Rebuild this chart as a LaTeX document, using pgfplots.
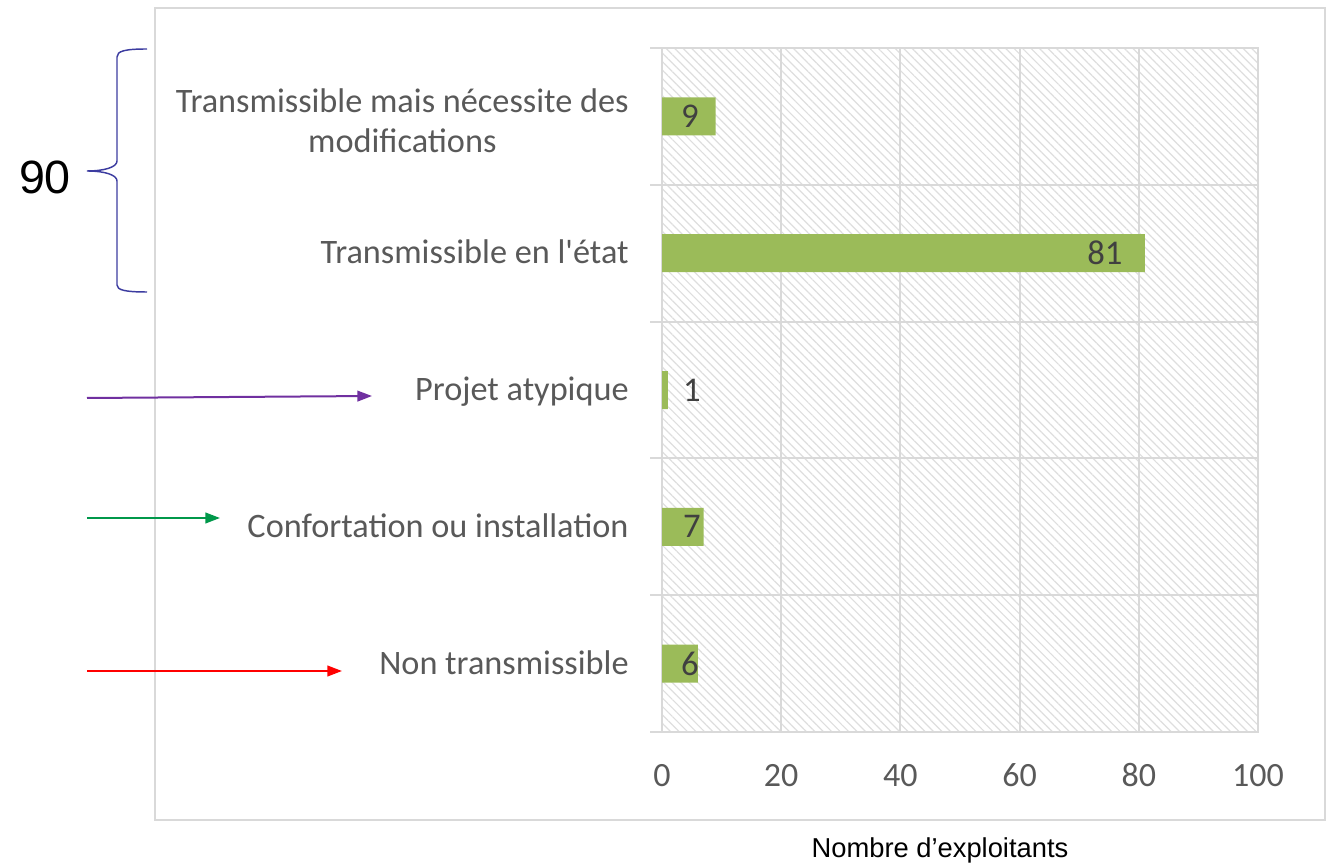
\documentclass[border=0pt]{standalone}
\usepackage{pgfplots}
\pgfplotsset{compat=1.18}
\usepackage{fontspec}
\setmainfont{Carlito}[Ligatures=TeXOff, Numbers=Lining]
\newfontfamily\arial{Liberation Sans}
\usetikzlibrary{patterns.meta,arrows.meta}
\definecolor{barg}{HTML}{9BBB59}
\definecolor{lbl}{HTML}{595959}
\definecolor{dlbl}{HTML}{404040}
\definecolor{gridc}{HTML}{D9D9D9}
\definecolor{brc}{HTML}{3C3CA0}
\definecolor{purp}{HTML}{7030A0}
\definecolor{grn}{HTML}{00984A}
\begin{document}
\begin{tikzpicture}
\begin{scope}[x=0.75pt,y=0.75pt]
\path[use as bounding box] (0,0) rectangle (1335,867);
\draw[gridc, line width=2.2pt] (155,859) rectangle (1325,47);
\end{scope}
\begin{axis}[
  at={(496.5pt,101.25pt)}, anchor=south west,
  scale only axis, width=447pt, height=513pt,
  xmin=0, xmax=100, ymin=-0.5, ymax=4.5,
  xtick={0,20,40,60,80,100},
  ytick={-0.5,0.5,1.5,2.5,3.5,4.5}, yticklabels={},
  xmajorgrids, ymajorgrids,
  major grid style={gridc, line width=1.5pt},
  axis line style={gridc, line width=1.5pt},
  xtick pos=bottom, ytick pos=left,
  xtick style={draw=none},
  ytick style={gridc, line width=1.5pt},
  ytick align=outside, major tick length=9pt,
  extra y ticks={0,1,2,3,4},
  extra y tick labels={Non transmissible, Confortation ou installation, Projet atypique, Transmissible en l'état, {Transmissible mais nécessite des\\modifications}},
  extra y tick style={major tick length=0pt, ymajorgrids=false, yticklabel style={align=center}},
  yticklabel style={font=\fontsize{25.7}{30}\selectfont, text=lbl, xshift=-21.5pt, yshift=-2pt},
  xticklabel style={font=\fontsize{25.5}{30}\selectfont, text=lbl, yshift=-16pt},
  typeset ticklabels with strut,
  /pgf/number format/assume math mode=true,
  axis background/.style={pattern={Lines[angle=-45,distance=4.5pt,line width=0.9pt]}, pattern color=black!13},
  clip=false,
]
\addplot[xbar, bar width=28.5pt, fill=barg, draw=none] coordinates {(6,0) (7,1) (1,2) (81,3) (9,4)};
\addplot[draw=none, nodes near coords, point meta=explicit symbolic,
  nodes near coords style={anchor=center, text=dlbl, font=\fontsize{26}{30}\selectfont}]
  coordinates {(4.7,0)[6] (5.0,1)[7] (5.0,2)[1] (74.3,3)[81] (4.7,4)[9]};
\end{axis}
\begin{scope}[x=0.75pt,y=0.75pt]
\draw[brc, line width=1.1pt] (147,818) .. controls (125,818) and (117,816) .. (117,810)
  -- (117,706) .. controls (117,700) and (105,696) .. (87,696)
  .. controls (105,696) and (117,692) .. (117,686)
  -- (117,582) .. controls (117,577) and (125,575) .. (147,575);
\node[font=\arial\fontsize{35}{40}\selectfont] at (45,690) {90};
\draw[purp, line width=1.5pt, -{Triangle[length=11pt,width=8pt]}] (87,469) -- (372,471);
\draw[grn, line width=1.5pt, -{Triangle[length=11pt,width=8pt]}] (87,349) -- (220,349);
\draw[red, line width=1.5pt, -{Triangle[length=11pt,width=8pt]}] (87,196) -- (342,196);
\node[font=\arial\fontsize{20.5}{24}\selectfont] at (940,17) {Nombre d’exploitants};
\end{scope}
\end{tikzpicture}
\end{document}
